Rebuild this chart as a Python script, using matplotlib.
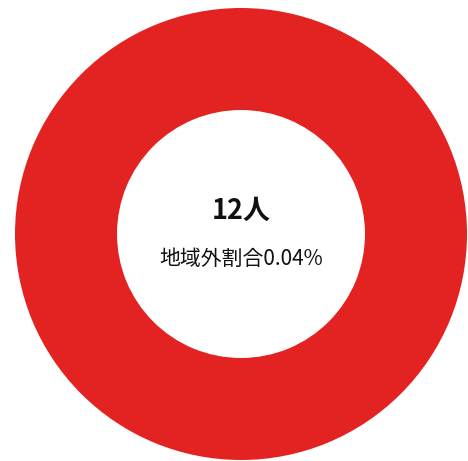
import matplotlib
matplotlib.use("Agg")
import matplotlib.pyplot as plt

plt.rcParams['font.family'] = ['Noto Sans CJK JP', 'DejaVu Sans']

# Data
categories = ['地域外']
values = [100]
count_label = '12人'
ratio_label = '地域外割合0.04%'
colors = ['#E32322']

W, H = 468, 461
fig = plt.figure(figsize=(W / 100, H / 100), dpi=100)
ax = fig.add_axes([0, 0, 1, 1])
ax.set_xlim(0, W)
ax.set_ylim(H, 0)
ax.set_aspect('equal')
ax.axis('off')

ax.pie(values, colors=colors, center=(241, 234), radius=226,
       startangle=90, counterclock=False,
       wedgeprops=dict(width=102, edgecolor='none'))
ax.set_xlim(0, W)
ax.set_ylim(H, 0)

ax.text(241, 211, count_label, ha='center', va='center',
        fontsize=19.5, fontweight='bold', color='#111111')
ax.text(241, 259, ratio_label, ha='center', va='center',
        fontsize=15, color='#111111')

fig.savefig('out.png', dpi=100)
